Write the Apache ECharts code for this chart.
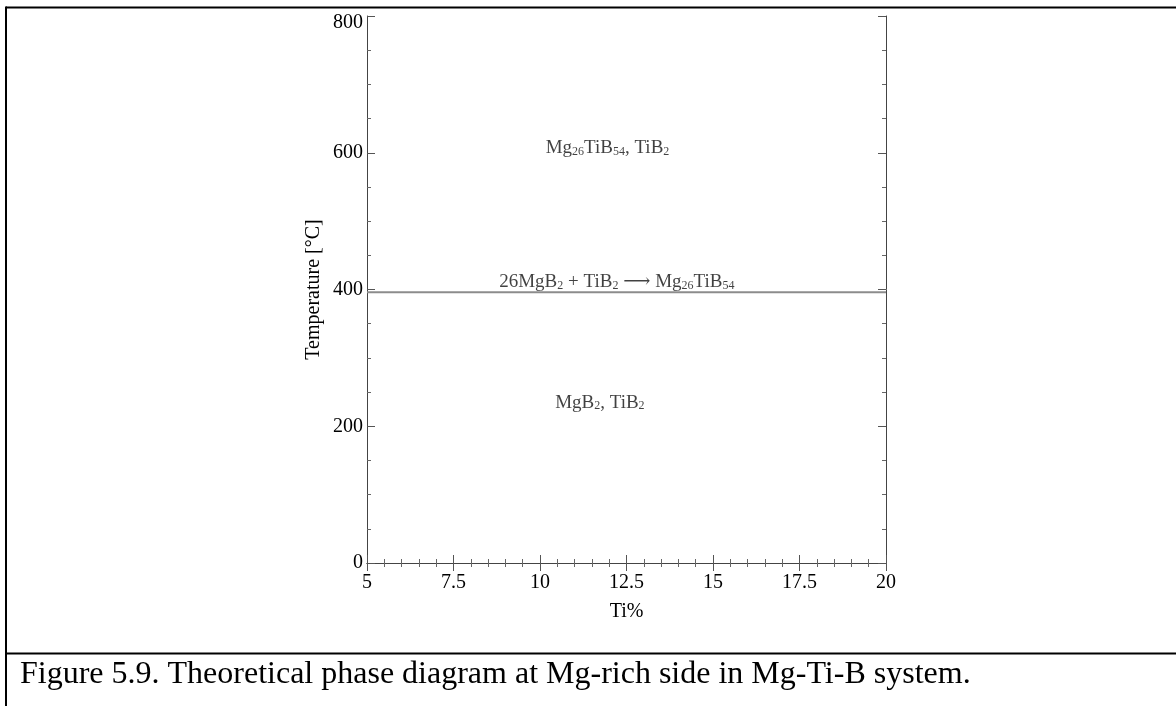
<!DOCTYPE html>
<html>
<head>
<meta charset="utf-8">
<script src="https://cdn.jsdelivr.net/npm/echarts@6/dist/echarts.min.js"></script>
<style>
html,body{margin:0;padding:0;background:#fff;}
#c{width:1176px;height:706px;}
</style>
</head>
<body>
<div id="c"></div>
<script>
// Data
const xRange = [5, 20];
const yRange = [0, 800];
const xTickStep = 2.5;
const yTickStep = 200;
const boundaryX = [5, 20];
const boundaryY = [396, 396];
const regionLabels = ['{n|Mg}{s|26}{n|TiB}{s|54}{n|, TiB}{s|2}', '{n|26MgB}{s|2}{n| + TiB}{s|2}{n| ⟶ Mg}{s|26}{n|TiB}{s|54}', '{n|MgB}{s|2}{n|, TiB}{s|2}'];
const labelX = [11.95, 12.22, 11.73];
const labelY = [610, 414, 238];
const xName = 'Ti%';
const yName = 'Temperature [°C]';
const caption = 'Figure 5.9. Theoretical phase diagram at Mg-rich side in Mg-Ti-B system.';

const serif = '"Liberation Serif","DejaVu Serif",serif';
const chart = echarts.init(document.getElementById('c'), null, {renderer: 'canvas'});

const axisCommon = {
  axisLine: {show: true, lineStyle: {color: '#444', width: 1}},
  axisTick: {show: true, inside: true, length: 8, lineStyle: {color: '#555'}},
  splitLine: {show: false}
};

chart.setOption({
  animation: false,
  backgroundColor: '#fff',
  grid: {left: 367, right: 290, top: 16, bottom: 143},
  xAxis: [
    Object.assign({}, axisCommon, {
      type: 'value', min: xRange[0], max: xRange[1], interval: xTickStep,
      minorTick: {show: true, splitNumber: 5, length: 4, lineStyle: {color: '#666'}},
      axisLabel: {fontFamily: serif, fontSize: 20, color: '#000', margin: 10},
      name: xName, nameLocation: 'middle', nameGap: 39,
      nameTextStyle: {fontFamily: serif, fontSize: 20, color: '#000'}
    }),
    Object.assign({}, axisCommon, {
      type: 'value', position: 'top', min: xRange[0], max: xRange[1], interval: xTickStep,
      minorTick: {show: true, splitNumber: 5, length: 4, lineStyle: {color: '#666'}},
      axisLabel: {show: false}
    })
  ],
  yAxis: [
    Object.assign({}, axisCommon, {
      type: 'value', min: yRange[0], max: yRange[1], interval: yTickStep,
      minorTick: {show: true, splitNumber: 4, length: 4, lineStyle: {color: '#666'}},
      axisLabel: {
        fontFamily: serif, fontSize: 20, color: '#000', margin: 4,
        formatter: v => v === yRange[1] ? '{t|' + v + '}' : String(v),
        rich: {t: {fontFamily: serif, fontSize: 20, color: '#000', padding: [13, 0, 0, 0]}}
      },
      name: yName, nameLocation: 'middle', nameGap: 43, nameRotate: 90,
      nameTextStyle: {fontFamily: serif, fontSize: 20, color: '#000'}
    }),
    Object.assign({}, axisCommon, {
      type: 'value', position: 'right', min: yRange[0], max: yRange[1], interval: yTickStep,
      minorTick: {show: true, splitNumber: 4, length: 4, lineStyle: {color: '#666'}},
      axisLabel: {show: false}
    })
  ],
  series: [
    {
      type: 'line', xAxisIndex: 0, yAxisIndex: 0,
      data: boundaryX.map((x, i) => [x, boundaryY[i]]),
      symbol: 'none', lineStyle: {color: '#8c8c8c', width: 2}, silent: true
    },
    {
      type: 'scatter', xAxisIndex: 0, yAxisIndex: 0, symbolSize: 0,
      data: labelX.map((x, i) => ({value: [x, labelY[i]], label: {formatter: regionLabels[i]}})),
      label: {
        show: true, position: 'inside', color: '#111',
        rich: {
          n: {fontFamily: serif, fontSize: 19, color: '#111', lineHeight: 24, verticalAlign: 'bottom'},
          s: {fontFamily: serif, fontSize: 12, color: '#111', lineHeight: 24, verticalAlign: 'bottom', padding: [5, 0, 0, 0]}
        }
      },
      silent: true
    }
  ],
  graphic: [
    {type: 'line', shape: {x1: 6, y1: 7.5, x2: 1176, y2: 7.5}, style: {stroke: '#000', lineWidth: 2}},
    {type: 'line', shape: {x1: 6, y1: 6.5, x2: 6, y2: 706}, style: {stroke: '#000', lineWidth: 2}},
    {type: 'line', shape: {x1: 6, y1: 653.5, x2: 1176, y2: 653.5}, style: {stroke: '#000', lineWidth: 2}},
    {type: 'text', x: 20, y: 691, style: {text: caption, font: '32px ' + serif, fill: '#000', verticalAlign: 'bottom'}}
  ]
});
</script>
</body>
</html>
